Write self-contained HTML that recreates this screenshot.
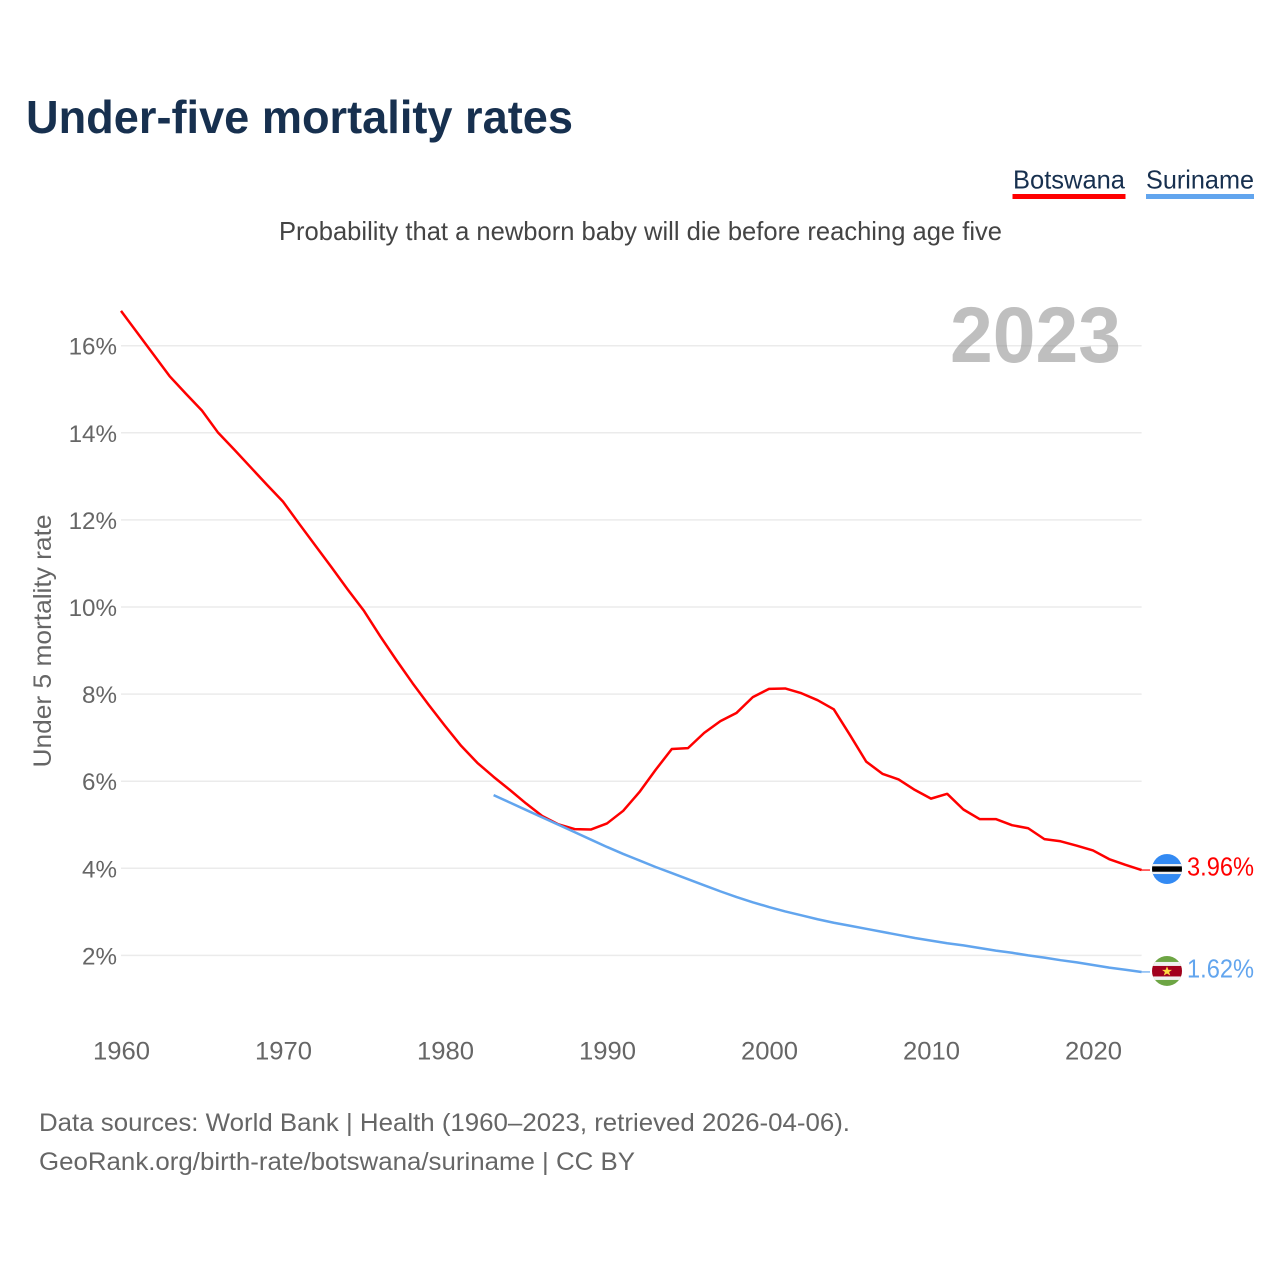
<!DOCTYPE html>
<html lang="en">
<head>
<meta charset="utf-8">
<title>Under-five mortality rates</title>
<style>
html,body{margin:0;padding:0;background:#fff;}
svg{display:block;}
text{font-family:"Liberation Sans",sans-serif;}
</style>
</head>
<body>
<svg id="chart" xmlns="http://www.w3.org/2000/svg" width="1280" height="1280" viewBox="0 0 1280 1280">
  <rect width="1280" height="1280" fill="#ffffff"/>
  <text x="26" y="133" font-size="46" font-weight="700" fill="#17304f" textLength="547" lengthAdjust="spacingAndGlyphs">Under-five mortality rates</text>
  <g>
    <text x="1013" y="188.5" font-size="26" fill="#17304f" textLength="112" lengthAdjust="spacingAndGlyphs">Botswana</text>
    <rect x="1012.5" y="194" width="113" height="5" fill="#ff0000"/>
  </g>
  <g>
    <text x="1146" y="188.5" font-size="26" fill="#17304f" textLength="108" lengthAdjust="spacingAndGlyphs">Suriname</text>
    <rect x="1146" y="194" width="108" height="5" fill="#62a5ee"/>
  </g>
  <text x="279" y="240" font-size="26" fill="#444444" textLength="723" lengthAdjust="spacingAndGlyphs">Probability that a newborn baby will die before reaching age five</text>
  <g id="grid"></g>
  <text x="950" y="362" font-size="79" font-weight="700" fill="#8a8a8a" fill-opacity="0.55" textLength="171" lengthAdjust="spacingAndGlyphs">2023</text>
  <g id="yLabels"></g>
  <g id="xLabels"></g>
  <text transform="translate(51,641) rotate(-90)" text-anchor="middle" font-size="25" fill="#666666" textLength="253" lengthAdjust="spacingAndGlyphs">Under 5 mortality rate</text>
  <g id="series"></g>
  <defs>
    <clipPath id="flagClipB"><circle id="clipCircleB" cx="1167" cy="869" r="15"/></clipPath>
    <clipPath id="flagClipS"><circle id="clipCircleS" cx="1167" cy="971" r="15"/></clipPath>
  </defs>
  <g id="flagB">
    <g clip-path="url(#flagClipB)">
      <rect x="1152" y="854" width="30" height="30" fill="#338af3"/>
      <rect x="1152" y="864" width="30" height="10" fill="#f0f0f0"/>
      <rect x="1152" y="866.3" width="30" height="5.4" fill="#000000"/>
    </g>
  </g>
  <g id="flagS">
    <g clip-path="url(#flagClipS)">
      <rect x="1152" y="956" width="30" height="30" fill="#6da544"/>
      <rect x="1152" y="962" width="30" height="18" fill="#f0f0f0"/>
      <rect x="1152" y="966" width="30" height="10.5" fill="#a2001d"/>
      <polygon points="1167,966.4 1168.4,969.9 1172,969.9 1169.1,972.1 1170.2,975.6 1167,973.5 1163.8,975.6 1164.9,972.1 1162,969.9 1165.6,969.9" fill="#ffda44"/>
    </g>
  </g>
  <text id="endB" x="1187" y="875" font-size="25.5" fill="#ff0000" textLength="67" lengthAdjust="spacingAndGlyphs"></text>
  <text id="endS" x="1187" y="977" font-size="25.5" fill="#62a5ee" textLength="67" lengthAdjust="spacingAndGlyphs"></text>
  <text x="39" y="1131" font-size="25" fill="#666666" textLength="811" lengthAdjust="spacingAndGlyphs">Data sources: World Bank | Health (1960–2023, retrieved 2026-04-06).</text>
  <text x="39" y="1170" font-size="25" fill="#666666" textLength="596" lengthAdjust="spacingAndGlyphs">GeoRank.org/birth-rate/botswana/suriname | CC BY</text>
</svg>
<script>
const years = [1960,1961,1962,1963,1964,1965,1966,1967,1968,1969,1970,1971,1972,1973,1974,1975,1976,1977,1978,1979,1980,1981,1982,1983,1984,1985,1986,1987,1988,1989,1990,1991,1992,1993,1994,1995,1996,1997,1998,1999,2000,2001,2002,2003,2004,2005,2006,2007,2008,2009,2010,2011,2012,2013,2014,2015,2016,2017,2018,2019,2020,2021,2022,2023];
const botswana = [16.80,16.30,15.80,15.30,14.90,14.51,14.00,13.61,13.21,12.81,12.42,11.91,11.41,10.91,10.40,9.91,9.33,8.78,8.25,7.75,7.27,6.81,6.42,6.10,5.80,5.49,5.20,5.01,4.90,4.89,5.03,5.32,5.75,6.26,6.74,6.76,7.11,7.38,7.57,7.93,8.12,8.13,8.02,7.86,7.65,7.06,6.45,6.17,6.04,5.80,5.60,5.71,5.35,5.13,5.13,4.99,4.92,4.67,4.62,4.52,4.41,4.21,4.08,3.96];
const suriname = [null,null,null,null,null,null,null,null,null,null,null,null,null,null,null,null,null,null,null,null,null,null,null,5.68,5.51,5.34,5.17,5.00,4.83,4.66,4.49,4.33,4.18,4.03,3.89,3.75,3.61,3.47,3.34,3.22,3.11,3.01,2.92,2.83,2.75,2.68,2.61,2.54,2.47,2.40,2.34,2.28,2.23,2.17,2.11,2.06,2.00,1.95,1.89,1.84,1.78,1.72,1.67,1.62];
const yTicks = [2,4,6,8,10,12,14,16];
const xTicks = [1960,1970,1980,1990,2000,2010,2020];

const NS = 'http://www.w3.org/2000/svg';
function xScale(year){ return 121 + (year - 1960) * 16.2; }
function yScale(v){ return 955.4 - (v - 2) * 43.55; }

const grid = document.getElementById('grid');
const yLabels = document.getElementById('yLabels');
const xLabels = document.getElementById('xLabels');
const series = document.getElementById('series');

yTicks.forEach(function(t){
  const l = document.createElementNS(NS,'line');
  
  
  l.setAttribute('x1', 121);
  l.setAttribute('x2', xScale(2023));
  l.setAttribute('y1', yScale(t));
  l.setAttribute('y2', yScale(t));
  l.setAttribute('stroke', '#ebebeb');
  l.setAttribute('stroke-width', '1.5');
  grid.appendChild(l);

  const txt = document.createElementNS(NS,'text');
  
  
  txt.setAttribute('x', 117);
  txt.setAttribute('y', yScale(t) + 9);
  txt.setAttribute('text-anchor', 'end');
  txt.setAttribute('font-size', '24.2');
  txt.setAttribute('fill', '#666666');
  txt.textContent = t + '%';
  yLabels.appendChild(txt);
});

xTicks.forEach(function(t){
  const txt = document.createElementNS(NS,'text');
  
  
  txt.setAttribute('x', xScale(t) - 28);
  txt.setAttribute('y', 1059.5);
  txt.setAttribute('font-size', '25');
  txt.setAttribute('fill', '#666666');
  txt.setAttribute('textLength', '57');
  txt.setAttribute('lengthAdjust', 'spacingAndGlyphs');
  txt.textContent = t;
  xLabels.appendChild(txt);
});

function pathFor(values){
  const pts = [];
  values.forEach(function(v,i){
    if (v !== null) pts.push(xScale(years[i]).toFixed(2) + ',' + yScale(v).toFixed(2));
  });
  return pts.join(' ');
}

const lineB = document.createElementNS(NS,'polyline');


lineB.setAttribute('points', pathFor(botswana));
lineB.setAttribute('fill', 'none');
lineB.setAttribute('stroke', '#ff0000');
lineB.setAttribute('stroke-width', '2.5');
lineB.setAttribute('stroke-linejoin', 'round');
series.appendChild(lineB);

const lineS = document.createElementNS(NS,'polyline');


lineS.setAttribute('points', pathFor(suriname));
lineS.setAttribute('fill', 'none');
lineS.setAttribute('stroke', '#62a5ee');
lineS.setAttribute('stroke-width', '2.5');
lineS.setAttribute('stroke-linejoin', 'round');
series.appendChild(lineS);

const lastB = botswana[botswana.length - 1];
const lastS = suriname[suriname.length - 1];
const flagYB = yScale(lastB) - 1;
const flagYS = yScale(lastS) - 1;

const stubB = document.createElementNS(NS,'line');


stubB.setAttribute('x1', xScale(2023));
stubB.setAttribute('x2', 1150);
stubB.setAttribute('y1', yScale(lastB));
stubB.setAttribute('y2', yScale(lastB));
stubB.setAttribute('stroke', '#ff0000');
stubB.setAttribute('stroke-width', '1.2');
series.appendChild(stubB);

const stubS = document.createElementNS(NS,'line');


stubS.setAttribute('x1', xScale(2023));
stubS.setAttribute('x2', 1150);
stubS.setAttribute('y1', yScale(lastS));
stubS.setAttribute('y2', yScale(lastS));
stubS.setAttribute('stroke', '#62a5ee');
stubS.setAttribute('stroke-width', '1.2');
series.appendChild(stubS);

document.getElementById('flagB').setAttribute('transform', 'translate(0,' + (flagYB - 869) + ')');
document.getElementById('flagS').setAttribute('transform', 'translate(0,' + (flagYS - 971) + ')');

const endB = document.getElementById('endB');
endB.textContent = lastB.toFixed(2) + '%';
endB.setAttribute('y', yScale(lastB) + 5.5);
const endS = document.getElementById('endS');
endS.textContent = lastS.toFixed(2) + '%';
endS.setAttribute('y', yScale(lastS) + 5.5);
</script>
</body>
</html>
